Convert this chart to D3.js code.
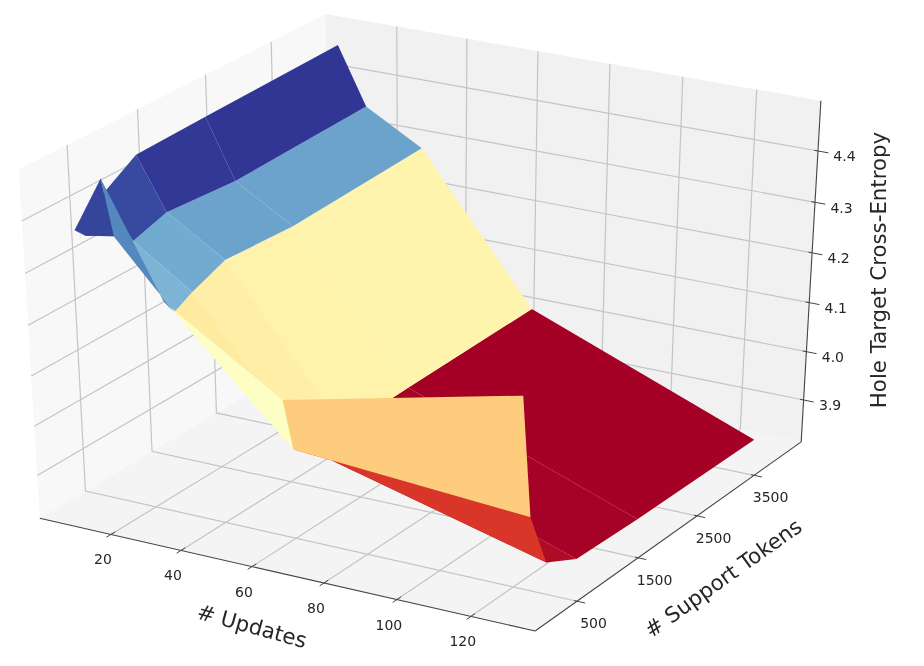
<!DOCTYPE html>
<html><head><meta charset="utf-8">
<script src="https://cdn.jsdelivr.net/npm/d3@7"></script>
<style>html,body{margin:0;padding:0;background:#fff}svg{display:block;filter:blur(0.4px)}text{font-family:"DejaVu Sans";fill:#262626}</style>
</head><body><svg id="chart" width="924" height="666"></svg>
<script>
// ---- data ----
const updates = [9, 17, 33, 65, 129];
const supportTokens = [78, 220, 485, 975, 1985, 4020];
const crossEntropy78   = [4.378, 4.486, 4.275, 4.132, 4.237];
const crossEntropy220  = [4.357, 4.367, 4.244, 4.023, 3.991];
const crossEntropy485  = [4.417, 4.339, 4.263, 3.999, 3.878];
const crossEntropy975  = [4.458, 4.359, 4.289, 4.001, 3.842];
const crossEntropy1985 = [4.462, 4.348, 4.281, 4.005, 3.836];
const crossEntropy4020 = [4.468, 4.356, 4.293, 4.009, 3.831];
const crossEntropy = [crossEntropy78, crossEntropy220, crossEntropy485, crossEntropy975, crossEntropy1985, crossEntropy4020];
const xTicks = [20, 40, 60, 80, 100, 120];
const yTicks = [500, 1500, 2500, 3500];
const zTicks = [3.9, 4.0, 4.1, 4.2, 4.3, 4.4];
const xLimits = [-0.575, 137.175];
const yLimits = [-167, 4353];
const zLimits = [3.8122, 4.4964];
const rdYlBu = ["#a50026","#d73027","#f46d43","#fdae61","#fee090","#ffffbf","#e0f3f8","#abd9e9","#74add1","#4575b4","#313695"];

// ---- scales: data -> unit box -> camera -> page ----
const half = 0.5 + 1 / 48;
const sx = d3.scaleLinear().domain(xLimits).range([-half, half]);
const sy = d3.scaleLinear().domain(yLimits).range([-half, half]);
const sz = d3.scaleLinear().domain(zLimits).range([-half, half]);
const elev = 30 * Math.PI / 180, azim = -60 * Math.PI / 180, dist = 10;
const n = [Math.cos(azim) * Math.cos(elev), Math.sin(azim) * Math.cos(elev), Math.sin(elev)];
const h = Math.hypot(n[0], n[1]);
const u = [-n[1] / h, n[0] / h, 0];
const v = [n[1] * u[2] - n[2] * u[1], n[2] * u[0] - n[0] * u[2], n[0] * u[1] - n[1] * u[0]];
const dot = (a, b) => a[0] * b[0] + a[1] * b[1] + a[2] * b[2];
const screenX = d3.scaleLinear().domain([0, 1]).range([426.6, 426.6 + 5489]);
const screenY = d3.scaleLinear().domain([0, 1]).range([311.5, 311.5 - 3820]);
function project(x, y, z) {
  const c = [sx(x), sy(y), sz(z)];
  const w = dist - dot(n, c);
  return { px: screenX(dot(u, c) / w), py: screenY(dot(v, c) / w), w };
}
const svg = d3.select("#chart");
const line = d3.line().x(d => d.px).y(d => d.py);
const closed = pts => line(pts) + "Z";
const [x0, x1] = xLimits, [y0, y1] = yLimits, [z0, z1] = zLimits;

// panes
const panes = [
  { fill: "#f8f8f8", pts: [[x0,y0,z0],[x0,y1,z0],[x0,y1,z1],[x0,y0,z1]] },
  { fill: "#f1f1f1", pts: [[x0,y1,z0],[x1,y1,z0],[x1,y1,z1],[x0,y1,z1]] },
  { fill: "#f4f4f4", pts: [[x0,y0,z0],[x1,y0,z0],[x1,y1,z0],[x0,y1,z0]] }
];
svg.append("g").selectAll("path").data(panes).join("path")
  .attr("d", d => closed(d.pts.map(p => project(...p)))).attr("fill", d => d.fill);

// grid
const gridLines = [];
xTicks.forEach(t => gridLines.push([[t,y0,z0],[t,y1,z0],[t,y1,z1]]));
yTicks.forEach(t => gridLines.push([[x1,t,z0],[x0,t,z0],[x0,t,z1]]));
zTicks.forEach(t => gridLines.push([[x0,y0,t],[x0,y1,t],[x1,y1,t]]));
svg.append("g").selectAll("path").data(gridLines).join("path")
  .attr("d", d => line(d.map(p => project(...p))))
  .attr("fill", "none").attr("stroke", "#c4c4c4").attr("stroke-width", 1.2);

// axis lines
const axisLines = [
  [[x0,y0,z0],[x1,y0,z0]],
  [[x1,y0,z0],[x1,y1,z0]],
  [[x1,y1,z0],[x1,y1,z1]]
];
svg.append("g").selectAll("path").data(axisLines).join("path")
  .attr("d", d => line(d.map(p => project(...p))))
  .attr("fill", "none").attr("stroke", "#444").attr("stroke-width", 1.1);

// tick marks
const tickMarks = [];
xTicks.forEach(t => tickMarks.push([[t,y0-65,z0],[t,y0+65,z0]]));
yTicks.forEach(t => tickMarks.push([[x1-0.8,t,z0],[x1+2.2,t,z0]]));
zTicks.forEach(t => tickMarks.push([[x1-1,y1,t],[x1+2.8,y1,t]]));
svg.append("g").selectAll("path").data(tickMarks).join("path")
  .attr("d", d => line(d.map(p => project(...p))))
  .attr("fill", "none").attr("stroke", "#444").attr("stroke-width", 1);

// surface: one face per grid cell, far faces first, coloured by mean height
const faces = [];
for (let r = 0; r < supportTokens.length - 1; r++) {
  for (let c = 0; c < updates.length - 1; c++) {
    const corners = [[r,c],[r,c+1],[r+1,c+1],[r+1,c]];
    const pts = corners.map(([i,j]) => project(updates[j], supportTokens[i], crossEntropy[i][j]));
    faces.push({ pts, mean: d3.mean(corners, ([i,j]) => crossEntropy[i][j]), depth: d3.mean(pts, p => p.w) });
  }
}
const color = d3.scaleLinear()
  .domain(rdYlBu.map((_, i) => i / (rdYlBu.length - 1)))
  .range(rdYlBu).interpolate(d3.interpolateRgb);
const norm = d3.scaleLinear().domain(d3.extent(faces, f => f.mean)).range([0, 1]);
faces.sort((a, b) => d3.descending(a.depth, b.depth));
svg.append("g").selectAll("path").data(faces).join("path")
  .attr("d", d => closed(d.pts)).attr("fill", d => color(norm(d.mean)));

// tick labels
const label = (g, t, p, dx, dy, fmt) => g.append("text").attr("x", p.px + dx).attr("y", p.py + dy)
  .attr("text-anchor", "middle").attr("dominant-baseline", "central").attr("font-size", 14).text(fmt(t));
const labels = svg.append("g");
xTicks.forEach(t => label(labels, t, project(t, y0, z0), -8, 25, String));
yTicks.forEach(t => label(labels, t, project(x1, t, z0), 16.5, 22, String));
zTicks.forEach(t => label(labels, t, project(x1, y1, t), 26.5, 5.5, d3.format(".1f")));

// axis titles
const title = (s, x, y, rot) => svg.append("text").attr("transform", `translate(${x},${y}) rotate(${rot})`)
  .attr("text-anchor", "middle").attr("dominant-baseline", "central").attr("font-size", 21.3).text(s);
title("# Updates", 252, 626, 15.5);
title("# Support Tokens", 723, 578, -35.5);
title("Hole Target Cross-Entropy", 878, 270, -90);
</script></body></html>
